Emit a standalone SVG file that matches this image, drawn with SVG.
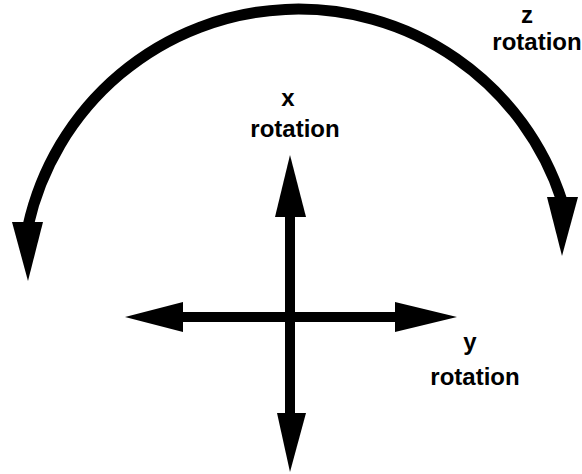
<svg xmlns="http://www.w3.org/2000/svg" width="582" height="474" viewBox="0 0 582 474">
<style>
.lbl{font-family:"Liberation Sans",Arial,sans-serif;font-weight:bold;font-size:24px;fill:#000;text-anchor:middle}
.shaft{stroke:#000;stroke-width:10;fill:none}
.arc{stroke:#000;stroke-width:11;fill:none}
.head{fill:#000;stroke:none}
</style>
<rect width="582" height="474" fill="#fff"/>
<g id="connectors">
<g id="z-arc">
<path class="arc" d="M 28 226 A 277 277 0 0 1 562 201"/>
<polygon class="head" points="12,222 43,222 28,281"/>
<polygon class="head" points="547,197 578,197 562,256"/>
</g>
<g id="vertical-arrow">
<line class="shaft" x1="290" y1="210" x2="290" y2="420"/>
<polygon class="head" points="290,155 306,217 275,217"/>
<polygon class="head" points="290,472 306,413 277,413"/>
</g>
<g id="horizontal-arrow">
<line class="shaft" x1="178" y1="317" x2="400" y2="317"/>
<polygon class="head" points="125,317 183,302 183,332"/>
<polygon class="head" points="457,317 395,302 395,332"/>
</g>
</g>
<g id="label-x">
<text class="lbl" x="288" y="106">x</text>
<text class="lbl" x="295" y="137">rotation</text>
</g>
<g id="label-z">
<text class="lbl" x="527" y="23">z</text>
<text class="lbl" x="537" y="50">rotation</text>
</g>
<g id="label-y">
<text class="lbl" x="470" y="350">y</text>
<text class="lbl" x="475" y="385">rotation</text>
</g>
</svg>
